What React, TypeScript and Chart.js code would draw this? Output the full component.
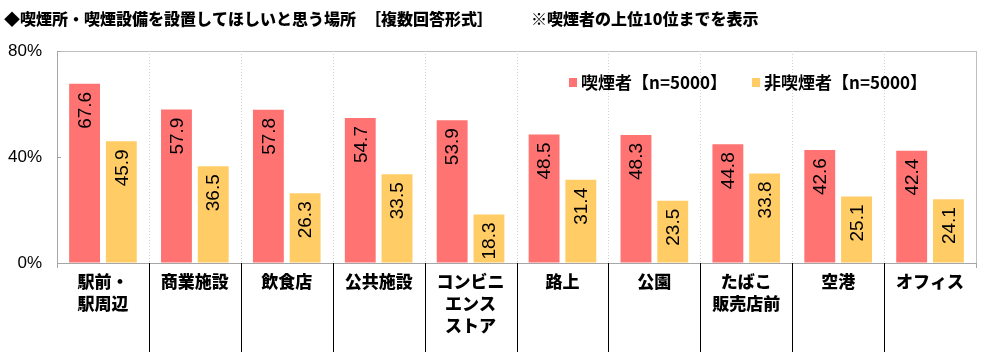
import React, { useEffect, useRef } from "react";
import { Chart, registerables } from "chart.js";

Chart.register(...registerables);

const categories: (string | string[])[] = [
  ["駅前・", "駅周辺"],
  "商業施設",
  "飲食店",
  "公共施設",
  ["コンビニ", "エンス", "ストア"],
  "路上",
  "公園",
  ["たばこ", "販売店前"],
  "空港",
  "オフィス",
];
const smokers = [67.6, 57.9, 57.8, 54.7, 53.9, 48.5, 48.3, 44.8, 42.6, 42.4];
const nonSmokers = [45.9, 36.5, 26.3, 33.5, 18.3, 31.4, 23.5, 33.8, 25.1, 24.1];
const seriesNames = ["喫煙者【n=5000】", "非喫煙者【n=5000】"];
const yTicks = [0, 40, 80];
const titleParts = [
  "◆喫煙所・喫煙設備を設置してほしいと思う場所",
  "［複数回答形式］",
  "※喫煙者の上位10位までを表示",
];

const RED = "#FF7373";
const YELLOW = "#FFCC66";
const JP = '"Noto Sans CJK JP", sans-serif';

const decorPlugin = {
  id: "decor",
  beforeDatasetsDraw(chart: any) {
    const { ctx, chartArea } = chart;
    const n = categories.length;
    const w = (chartArea.right - chartArea.left) / n;
    ctx.save();
    ctx.strokeStyle = "#d0d0d0";
    ctx.lineWidth = 1;
    ctx.setLineDash([1, 2]);
    for (let i = 1; i < n; i++) {
      const x = Math.round(chartArea.left + i * w) + 0.5;
      ctx.beginPath();
      ctx.moveTo(x, chartArea.top);
      ctx.lineTo(x, chartArea.bottom);
      ctx.stroke();
    }
    ctx.setLineDash([]);
    ctx.strokeStyle = "#bfbfbf";
    const xr = Math.round(chartArea.right) + 0.5;
    ctx.beginPath();
    ctx.moveTo(xr, chartArea.top);
    ctx.lineTo(xr, chartArea.bottom);
    ctx.stroke();
    ctx.restore();
  },
  afterDatasetsDraw(chart: any) {
    const { ctx } = chart;
    ctx.save();
    ctx.fillStyle = "#000000";
    ctx.font = '19px "Liberation Sans", Arial, sans-serif';
    ctx.textAlign = "right";
    ctx.textBaseline = "middle";
    chart.data.datasets.forEach((ds: any, di: number) => {
      const meta = chart.getDatasetMeta(di);
      meta.data.forEach((bar: any, i: number) => {
        const v = ds.data[i] as number;
        ctx.save();
        ctx.translate(bar.x, bar.y + 8);
        ctx.rotate(-Math.PI / 2);
        ctx.fillText(v.toFixed(1), 0, 1);
        ctx.restore();
      });
    });
    ctx.restore();
  },
  afterDraw(chart: any) {
    const { ctx, chartArea, scales } = chart;
    const n = categories.length;
    const w = (chartArea.right - chartArea.left) / n;
    ctx.save();
    ctx.strokeStyle = "#000000";
    ctx.lineWidth = 1;
    for (let i = 1; i < n; i++) {
      const x = Math.round(chartArea.left + i * w) + 0.5;
      ctx.beginPath();
      ctx.moveTo(x, chartArea.bottom);
      ctx.lineTo(x, chart.height);
      ctx.stroke();
    }
    ctx.strokeStyle = "#a6a6a6";
    for (const xx of [chartArea.left, chartArea.right]) {
      const x = Math.round(xx) + 0.5;
      ctx.beginPath();
      ctx.moveTo(x, chartArea.bottom);
      ctx.lineTo(x, chartArea.bottom + 5);
      ctx.stroke();
    }
    for (const v of yTicks) {
      const y = Math.round(scales.y.getPixelForValue(v)) + 0.5;
      ctx.beginPath();
      ctx.moveTo(chartArea.left, y);
      ctx.lineTo(chartArea.left + 4, y);
      ctx.stroke();
    }
    ctx.fillStyle = "#000000";
    ctx.textBaseline = "middle";
    ctx.textAlign = "left";
    ctx.font = `900 16px ${JP}`;
    ctx.fillText(titleParts[0], 4, 19);
    ctx.fillText(titleParts[1], 365, 19);
    ctx.fillText(titleParts[2], 531, 19, 236);
    const legendX = [569, 752];
    const colors = [RED, YELLOW];
    ctx.font = `bold 17px ${JP}`;
    for (let i = 0; i < 2; i++) {
      ctx.fillStyle = colors[i];
      ctx.fillRect(legendX[i], 78, 8, 9);
      ctx.fillStyle = "#000000";
      ctx.fillText(seriesNames[i], legendX[i] + 12, 83);
    }
    ctx.restore();
  },
};

export default function App() {
  const ref = useRef<HTMLCanvasElement>(null);
  useEffect(() => {
    document.body.style.margin = "0";
    const chart = new Chart(ref.current!, {
      type: "bar",
      data: {
        labels: categories,
        datasets: [
          {
            label: seriesNames[0],
            data: smokers,
            backgroundColor: RED,
            categoryPercentage: 0.8,
            barPercentage: 0.84,
          },
          {
            label: seriesNames[1],
            data: nonSmokers,
            backgroundColor: YELLOW,
            categoryPercentage: 0.8,
            barPercentage: 0.84,
          },
        ],
      },
      plugins: [decorPlugin],
      options: {
        animation: false,
        responsive: true,
        maintainAspectRatio: false,
        layout: { padding: { top: 51, right: 24, left: 0, bottom: 0 } },
        plugins: {
          legend: { display: false },
          title: { display: false },
          tooltip: { enabled: false },
        },
        scales: {
          x: {
            grid: { display: false },
            border: { display: true, color: "#a6a6a6" },
            ticks: {
              color: "#000000",
              font: { family: JP, size: 17, weight: "900", lineHeight: 22 / 17 },
              padding: 0,
              maxRotation: 0,
              autoSkip: false,
            },
            afterFit: (s: any) => {
              s.height = 89;
            },
          },
          y: {
            min: 0,
            max: 80,
            afterBuildTicks: (s: any) => {
              s.ticks = yTicks.map((v) => ({ value: v }));
            },
            grid: {
              drawTicks: false,
              color: (c: any) => (c.tick && c.tick.value === 80 ? "#bfbfbf" : "rgba(0,0,0,0)"),
            },
            border: { display: true, color: "#a6a6a6" },
            ticks: {
              color: "#000000",
              font: { family: '"Liberation Sans", Arial, sans-serif', size: 17 },
              padding: 15,
              callback: (v: any) => `${v}%`,
            },
            afterFit: (s: any) => {
              s.width = 57;
            },
          },
        },
      },
    });
    return () => chart.destroy();
  }, []);
  return (
    <div style={{ position: "relative", width: 1000, height: 352 }}>
      <canvas ref={ref} />
    </div>
  );
}
